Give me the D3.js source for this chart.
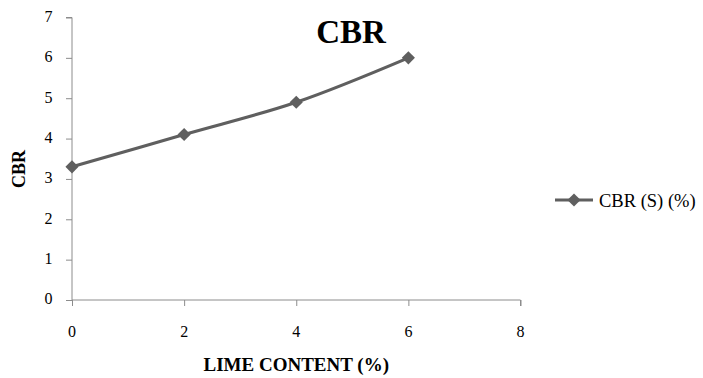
<!DOCTYPE html>
<html>
<head>
<meta charset="utf-8">
<script src="https://cdn.jsdelivr.net/npm/d3@7"></script>
<style>
  html, body { margin: 0; padding: 0; background: #fff; }
  svg { display: block; }
  svg text { font-family: "Liberation Serif", serif; fill: #000; }
</style>
</head>
<body>
<svg id="chart" width="703" height="378"></svg>
<script>
const limeContent = [0, 2, 4, 6];
const cbrValues = [3.3, 4.1, 4.9, 6.0];
const xTicks = [0, 2, 4, 6, 8];
const yTicks = [0, 1, 2, 3, 4, 5, 6, 7];
const seriesName = "CBR (S) (%)";
const chartTitle = "CBR";
const xTitle = "LIME CONTENT (%)";
const yTitle = "CBR";

const svg = d3.select("#chart");
const m = { left: 72, right: 520.5, top: 17.5, bottom: 300 };
const x = d3.scaleLinear().domain([0, 8]).range([m.left, m.right]);
const y = d3.scaleLinear().domain([0, 7]).range([m.bottom, m.top]);
const axisColor = "#8c8c8c";

// Y axis (lines via d3 axis, labels drawn as own text)
const yAxis = svg.append("g").attr("transform", `translate(${m.left},0)`)
  .call(d3.axisLeft(y).tickValues(yTicks).tickSize(6).tickFormat(""));
yAxis.select(".domain").attr("stroke", axisColor).attr("d", `M-6,${m.top}H0V${m.bottom}`);
yAxis.selectAll(".tick line").attr("stroke", axisColor);
svg.append("g").selectAll("text").data(yTicks).join("text")
  .attr("x", m.left - 19.5).attr("y", d => y(d)).attr("dy", "0.28em")
  .attr("text-anchor", "end").attr("font-size", 16).text(d => d);

// X axis
const xAxis = svg.append("g").attr("transform", `translate(0,${m.bottom})`)
  .call(d3.axisBottom(x).tickValues(xTicks).tickSize(6).tickFormat(""));
xAxis.select(".domain").attr("stroke", axisColor).attr("d", `M${m.left},0H${m.right}V6`);
xAxis.selectAll(".tick line").attr("stroke", axisColor);
svg.append("g").selectAll("text").data(xTicks).join("text")
  .attr("x", d => x(d)).attr("y", m.bottom + 37)
  .attr("text-anchor", "middle").attr("font-size", 16).text(d => d);

// Line
const data = limeContent.map((d, i) => ({ x: d, y: cbrValues[i] }));
const line = d3.line().x(d => x(d.x)).y(d => y(d.y)).curve(d3.curveCatmullRom.alpha(0.5));
const seriesColor = "#5f5f5f";
svg.append("path").datum(data).attr("d", line)
  .attr("fill", "none").attr("stroke", seriesColor).attr("stroke-width", 3.2)
  .attr("stroke-linejoin", "round");

const diamond = d3.symbol().type(d3.symbolDiamond2).size(110);
svg.selectAll(".pt").data(data).join("path")
  .attr("class", "pt")
  .attr("transform", d => `translate(${x(d.x)},${y(d.y)})`)
  .attr("d", diamond)
  .attr("fill", seriesColor);

// Title
svg.append("text").attr("x", 351).attr("y", 43).attr("text-anchor", "middle")
  .attr("font-size", 33).attr("font-weight", "bold").text(chartTitle);

// Axis titles
svg.append("text").attr("x", (m.left + m.right) / 2).attr("y", 371).attr("text-anchor", "middle")
  .attr("font-size", 19).attr("font-weight", "bold").text(xTitle);
svg.append("text").attr("transform", "translate(25,169) rotate(-90)").attr("text-anchor", "middle")
  .attr("font-size", 18).attr("font-weight", "bold").text(yTitle);

// Legend
const lg = svg.append("g").attr("transform", "translate(555,200)");
lg.append("line").attr("x1", 0).attr("x2", 38).attr("y1", 0).attr("y2", 0)
  .attr("stroke", seriesColor).attr("stroke-width", 3.2);
lg.append("path").attr("transform", "translate(19,0)").attr("d", diamond).attr("fill", seriesColor);
lg.append("text").attr("x", 44).attr("y", 6.5).attr("font-size", 18.5).text(seriesName);
</script>
</body>
</html>
